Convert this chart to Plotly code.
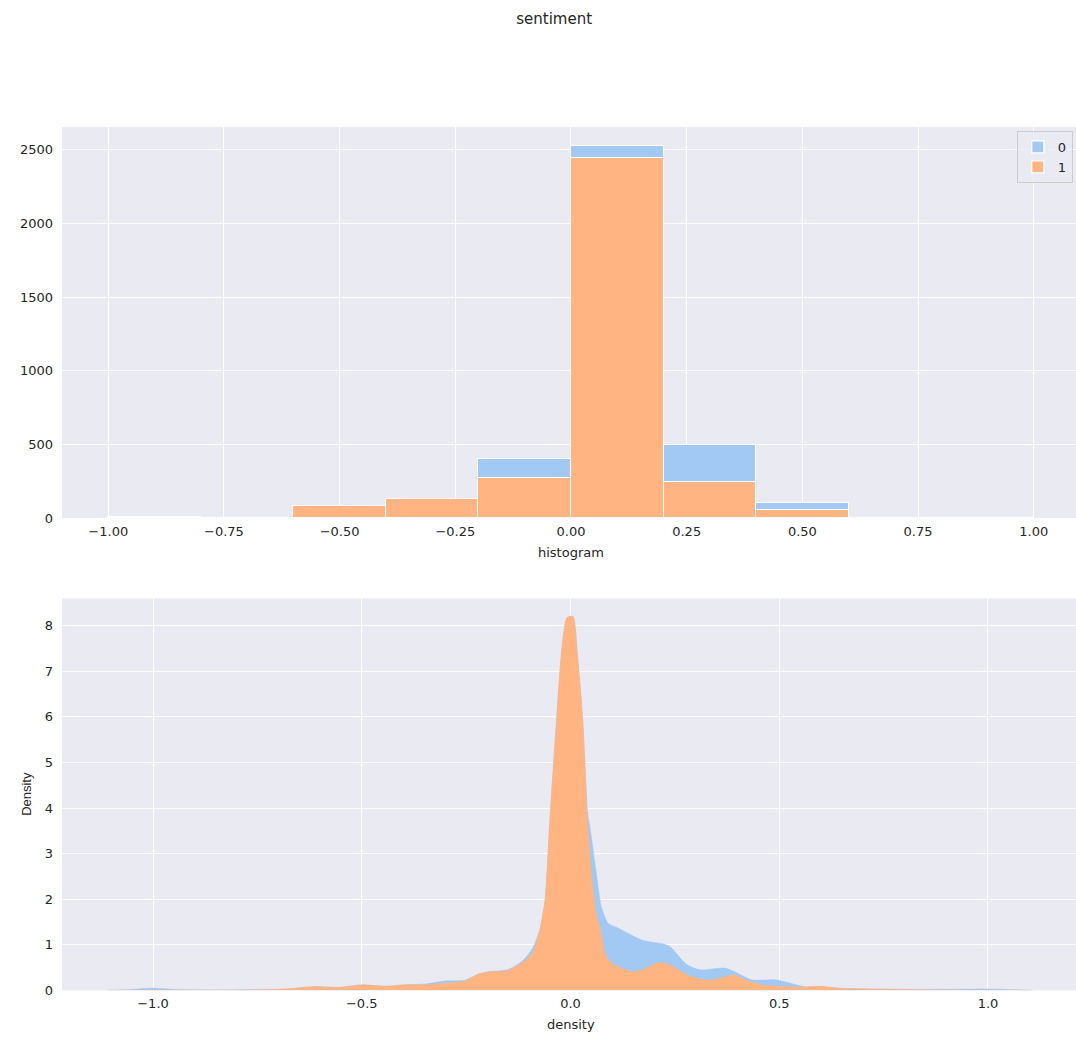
import plotly.graph_objects as go

# ---------------- data ----------------
bin_centers = [-0.9, -0.7, -0.5, -0.3, -0.1, 0.1, 0.3, 0.5, 0.7, 0.9]
counts_1 = [2, 1, 81, 127, 272, 2444, 245, 52, 2, 1]
counts_0 = [6, 0, 0, 0, 130, 83, 249, 51, 1, 1]

kde_top_x = [-1.11, -1.05, -1.0, -0.95, -0.85, -0.77, -0.68, -0.614, -0.554, -0.5, -0.443, -0.4,
             -0.348, -0.297, -0.254, -0.22, -0.194, -0.151, -0.117, -0.091, -0.074, -0.061,
             -0.049, -0.033, -0.02, -0.008, 0.006, 0.016, 0.029, 0.041, 0.049, 0.061, 0.074,
             0.09, 0.115, 0.172, 0.221, 0.238, 0.279, 0.311, 0.369, 0.393, 0.434, 0.492,
             0.525, 0.566, 0.607, 0.664, 0.828, 1.0, 1.107]
kde_top_y = [0.0, 0.02, 0.05, 0.02, 0.01, 0.015, 0.03, 0.08, 0.065, 0.12, 0.09, 0.12,
             0.14, 0.21, 0.22, 0.36, 0.41, 0.45, 0.63, 0.92, 1.32, 1.97,
             3.79, 5.97, 7.56, 8.18, 8.2, 7.42, 5.97, 3.9, 3.43, 2.63, 1.83,
             1.47, 1.36, 1.10, 1.02, 0.96, 0.56, 0.45, 0.49, 0.41, 0.23, 0.23,
             0.16, 0.07, 0.07, 0.04, 0.02, 0.03, 0.0]

kde_1_x = [-1.11, -1.0, -0.85, -0.77, -0.68, -0.614, -0.554, -0.5, -0.443, -0.4, -0.348,
           -0.297, -0.254, -0.22, -0.194, -0.151, -0.117, -0.091, -0.074, -0.061, -0.049,
           -0.033, -0.02, -0.008, 0.006, 0.016, 0.029, 0.041, 0.049, 0.061, 0.074, 0.082,
           0.098, 0.148, 0.172, 0.213, 0.238, 0.279, 0.32, 0.352, 0.393, 0.418, 0.459, 0.5,
           0.549, 0.598, 0.648, 0.705, 0.828, 1.107]
kde_1_y = [0.0, 0.01, 0.005, 0.01, 0.03, 0.08, 0.065, 0.12, 0.09, 0.12, 0.12,
           0.16, 0.2, 0.36, 0.41, 0.43, 0.6, 0.81, 1.3, 1.97, 3.79,
           5.97, 7.56, 8.18, 8.2, 7.42, 5.97, 3.64, 2.7, 1.7, 1.25, 0.81,
           0.6, 0.41, 0.45, 0.61, 0.56, 0.34, 0.23, 0.25, 0.34, 0.23, 0.12, 0.09,
           0.07, 0.09, 0.04, 0.03, 0.015, 0.0]

BLUE = "#a1c9f4"
ORANGE = "#ffb482"
BG = "#eaeaf2"
TXT = "#262626"
FONT = "DejaVu Sans"

W, H = 1076, 1044

fig = go.Figure()

# histogram (stacked: "1" bottom, "0" on top)
fig.add_trace(go.Bar(x=bin_centers, y=counts_1, width=0.2, name="1",
                     marker=dict(color=ORANGE, line=dict(color="white", width=1.2)),
                     xaxis="x", yaxis="y"))
fig.add_trace(go.Bar(x=bin_centers, y=counts_0, width=0.2, name="0",
                     marker=dict(color=BLUE, line=dict(color="white", width=1.2)),
                     xaxis="x", yaxis="y"))

# KDE (stacked look: blue total behind, orange in front)
fig.add_trace(go.Scatter(x=kde_top_x, y=kde_top_y, mode="lines", fill="tozeroy",
                         line=dict(color=BLUE, width=0.5, shape="spline", smoothing=0.6),
                         fillcolor=BLUE, showlegend=False, xaxis="x2", yaxis="y2"))
fig.add_trace(go.Scatter(x=kde_1_x, y=kde_1_y, mode="lines", fill="tozeroy",
                         line=dict(color=ORANGE, width=0.5, shape="spline", smoothing=0.6),
                         fillcolor=ORANGE, showlegend=False, xaxis="x2", yaxis="y2"))

x0 = 62 / W
top_dom = [(H - 522) / H, (H - 128) / H]
bot_dom = [(H - 998) / H, (H - 603) / H]

axis_common = dict(showgrid=True, gridcolor="white", gridwidth=1.3, zeroline=False,
                   showline=False, ticks="", tickfont=dict(family=FONT, size=13, color=TXT))

fig.update_layout(
    width=W, height=H,
    margin=dict(l=0, r=0, t=0, b=0),
    paper_bgcolor="white", plot_bgcolor=BG,
    barmode="stack", bargap=0,
    font=dict(family=FONT, color=TXT),
    xaxis=dict(domain=[x0, 1], range=[-1.1, 1.0914], tickvals=[-1, -0.75, -0.5, -0.25, 0, 0.25, 0.5, 0.75, 1.0],
               tickformat=".2f", anchor="y", ticklabelstandoff=4, **axis_common),
    yaxis=dict(domain=top_dom, range=[0, 2655], dtick=500, anchor="x", ticklabelstandoff=8, **axis_common),
    xaxis2=dict(domain=[x0, 1], range=[-1.218, 1.2108], tickvals=[-1, -0.5, 0, 0.5, 1.0],
                tickformat=".1f", anchor="y2", ticklabelstandoff=4, **axis_common),
    yaxis2=dict(domain=bot_dom, range=[0, 8.6], dtick=1, anchor="x2", ticklabelstandoff=8, **axis_common),
    legend=dict(x=0.997, y=(H - 132) / H, xanchor="right", yanchor="top", traceorder="reversed",
                bgcolor="rgba(234,234,242,0.8)", bordercolor="#cccccc", borderwidth=1,
                font=dict(family=FONT, size=13, color=TXT)),
    title=dict(text="sentiment", x=0.515, y=1 - 19 / H, xanchor="center", yanchor="middle",
               font=dict(family=FONT, size=15, color=TXT)),
    annotations=[
        dict(text="histogram", x=571 / W, y=1 - 557 / H, xref="paper", yref="paper",
             showarrow=False, xanchor="center", yanchor="middle",
             font=dict(family=FONT, size=13, color=TXT)),
        dict(text="density", x=571 / W, y=1 - 1032 / H, xref="paper", yref="paper",
             showarrow=False, xanchor="center", yanchor="middle",
             font=dict(family=FONT, size=13, color=TXT)),
        dict(text="Density", x=27 / W, y=1 - 800 / H, xref="paper", yref="paper",
             showarrow=False, xanchor="center", yanchor="middle", textangle=-90,
             font=dict(family="Liberation Sans", size=13, color=TXT)),
    ],
)

fig.write_html("out.html")
